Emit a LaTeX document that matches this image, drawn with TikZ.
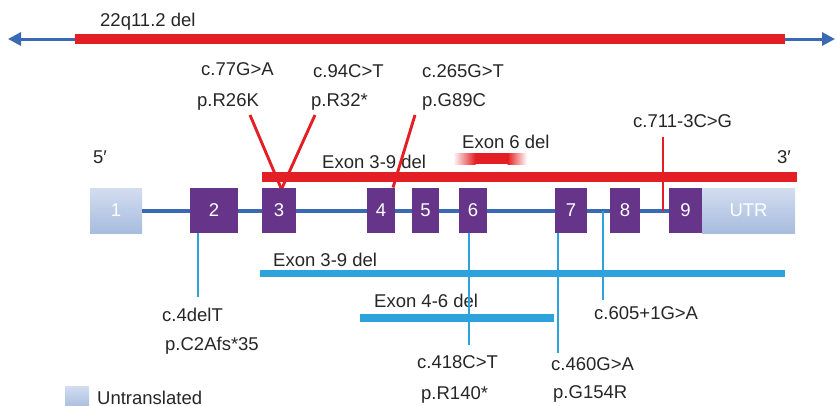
\documentclass[tikz,border=0pt]{standalone}
\usepackage{fontspec}
\setmainfont{Liberation Sans}
\usetikzlibrary{arrows.meta}
\definecolor{delred}{HTML}{E31E24}
\definecolor{geneblue}{HTML}{3A6AB4}
\definecolor{exonpurple}{HTML}{66358A}
\definecolor{mutblue}{HTML}{2EA2DA}
\definecolor{utrtop}{HTML}{D3DDEF}
\definecolor{utrbot}{HTML}{A7BCDF}
\begin{document}
\begin{tikzpicture}[x=1pt,y=-1pt,
  txt/.style={font=\fontsize{18.5}{22}\selectfont, text=black!85, inner sep=0pt, anchor=base west},
  exon/.style={fill=exonpurple, text=white, inner sep=0pt, outer sep=0pt,
    minimum height=45pt, font=\fontsize{18.5}{22}\selectfont},
  untrans/.style={top color=utrtop, bottom color=utrbot, text=white, inner sep=0pt,
    outer sep=0pt, minimum height=45pt, font=\fontsize{18.5}{22}\selectfont},
  redmut/.style={delred, line width=2.9pt},
  bluemut/.style={mutblue, line width=2.9pt}]
\useasboundingbox (0,0) rectangle (837,405);

% chromosome arrow with the 22q11.2 deletion
\coordinate (chrL) at (8,39);
\coordinate (chrR) at (835,39);
\draw[geneblue, line width=3pt, {Triangle[length=13pt,width=13pt]}-{Triangle[length=13pt,width=13pt]}] (chrL) -- (chrR);
\fill[delred] (75,34) rectangle (785,44);
\node[txt] (del22) at (100,26) {22q11.2 del};

% exons and untranslated regions
\node[untrans, minimum width=52pt] (e1) at (116,210.5) {1};
\node[untrans, minimum width=93pt] (utr) at (748.5,210.5) {UTR};
\draw[geneblue, line width=4pt] (e1.east) -- (utr.west);
\node[exon, minimum width=48pt] (e2) at (214,210.5) {2};
\node[exon, minimum width=34pt] (e3) at (279,210.5) {3};
\node[exon, minimum width=28pt] (e4) at (381,210) {4};
\node[exon, minimum width=27pt] (e5) at (425.5,210) {5};
\node[exon, minimum width=28pt] (e6) at (473,210.5) {6};
\node[exon, minimum width=32pt] (e7) at (571,210.5) {7};
\node[exon, minimum width=30pt] (e8) at (625,210.5) {8};
\node[exon, minimum width=33pt] (e9) at (685.5,210.5) {9};

\node[txt] (p5) at (93,163) {5′};
\node[txt] (p3) at (777,163) {3′};

% red deletions
\fill[delred] (262,172) rectangle (797,182);
\node[txt] (rdel39) at (322,168) {Exon 3-9 del};
\fill[delred] (475,153) rectangle (508,164);
\shade[left color=white, right color=delred] (453,153) rectangle (475.5,164);
\shade[left color=delred, right color=white] (507.5,153) rectangle (527,164);
\node[txt] (rdel6) at (462,148) {Exon 6 del};

% red point mutations
\node[txt] (m77c) at (201,75) {c.77G>A};
\node[txt] (m77p) at (197,106) {p.R26K};
\node[txt] (m94c) at (313,77) {c.94C>T};
\node[txt] (m94p) at (311,106) {p.R32*};
\node[txt] (m265c) at (422,77) {c.265G>T};
\node[txt] (m265p) at (422,106) {p.G89C};
\node[txt] (m711c) at (633,127) {c.711-3C>G};
\coordinate (m77s) at (250,115);
\coordinate (m94s) at (315,115);
\coordinate (m265s) at (415,115);
\coordinate (m711s) at (663,137);
\coordinate (m711e) at (663,211);
\draw[redmut] (m77s) -- ([xshift=2pt]e3.north);
\draw[redmut] (m94s) -- ([xshift=3pt]e3.north);
\draw[redmut] (m265s) -- ([xshift=-2pt]e4.north east);
\draw[redmut] (m711s) -- (m711e);

% blue deletions
\fill[mutblue] (260,270) rectangle (785,277);
\node[txt] (bdel39) at (273,266) {Exon 3-9 del};
\fill[mutblue] (360,314) rectangle (554,322);
\node[txt] (bdel46) at (374,307) {Exon 4-6 del};

% blue point mutations
\coordinate (m4e) at (198,297);
\coordinate (m418e) at (469,345);
\coordinate (m460e) at (558,353);
\coordinate (m605s) at (603,211);
\coordinate (m605e) at (603,300);
\draw[bluemut] ([xshift=-16pt]e2.south) -- (m4e);
\draw[bluemut] ([xshift=-4pt]e6.south) -- (m418e);
\draw[bluemut] ([xshift=-13pt]e7.south) -- (m460e);
\draw[bluemut] (m605s) -- (m605e);
\node[txt] (m4c) at (162,321) {c.4delT};
\node[txt] (m4p) at (165,350) {p.C2Afs*35};
\node[txt] (m605c) at (594,319) {c.605+1G>A};
\node[txt] (m418c) at (417,368) {c.418C>T};
\node[txt] (m418p) at (421,399) {p.R140*};
\node[txt] (m460c) at (551,370) {c.460G>A};
\node[txt] (m460p) at (553,398) {p.G154R};

% legend
\node[untrans, minimum width=24pt, minimum height=22pt, anchor=north west] (leg) at (65,386) {};
\node[txt] (legt) at (97,404.5) {Untranslated};
\end{tikzpicture}
\end{document}
